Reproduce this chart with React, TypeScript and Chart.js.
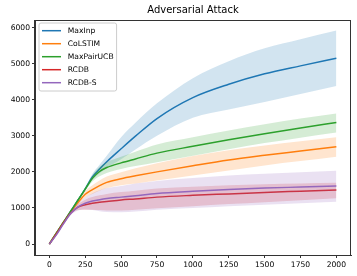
import React, { useEffect, useRef } from "react";
import { Chart, registerables } from "chart.js";

Chart.register(...registerables);

const steps = [0, 50, 100, 150, 200, 250, 300, 350, 400, 500, 600, 750, 1000, 1250, 1500, 1750, 2000];

const seriesNames = ["MaxInp", "CoLSTIM", "MaxPairUCB", "RCDB", "RCDB-S"];
const seriesColors = ["#1f77b4", "#ff7f0e", "#2ca02c", "#d62728", "#9467bd"];

const maxInpMean = [0, 305, 610, 915, 1220, 1530, 1860, 2080, 2280, 2640, 2990, 3480, 4060, 4430, 4720, 4940, 5150];
const maxInpLow = [0, 300, 600, 900, 1200, 1490, 1780, 1960, 2110, 2350, 2620, 3000, 3500, 3730, 3940, 4160, 4380];
const maxInpHigh = [0, 310, 620, 930, 1250, 1570, 1950, 2200, 2450, 2960, 3360, 3900, 4600, 5070, 5430, 5680, 5920];

const colstimMean = [0, 305, 610, 900, 1150, 1380, 1510, 1620, 1710, 1810, 1890, 2000, 2170, 2330, 2460, 2580, 2700];
const colstimLow = [0, 300, 600, 870, 1090, 1290, 1390, 1480, 1550, 1630, 1680, 1760, 1900, 2040, 2180, 2300, 2420];
const colstimHigh = [0, 310, 620, 930, 1210, 1470, 1630, 1760, 1870, 1990, 2100, 2240, 2440, 2600, 2730, 2850, 2960];

const maxPairMean = [0, 305, 610, 915, 1220, 1520, 1820, 2010, 2120, 2250, 2360, 2520, 2710, 2890, 3060, 3220, 3370];
const maxPairLow = [0, 300, 600, 900, 1190, 1470, 1730, 1880, 1970, 2080, 2160, 2270, 2450, 2630, 2800, 2950, 3090];
const maxPairHigh = [0, 310, 620, 930, 1250, 1570, 1910, 2140, 2270, 2420, 2560, 2760, 2960, 3150, 3320, 3480, 3620];

const rcdbMean = [0, 285, 590, 860, 1020, 1090, 1130, 1160, 1180, 1220, 1250, 1300, 1350, 1390, 1430, 1465, 1500];
const rcdbLow = [0, 270, 560, 820, 940, 950, 950, 940, 930, 930, 950, 990, 1050, 1110, 1160, 1210, 1270];
const rcdbHigh = [0, 300, 620, 900, 1100, 1230, 1300, 1350, 1390, 1440, 1480, 1540, 1590, 1630, 1660, 1680, 1700];

const rcdbsMean = [0, 260, 570, 850, 1030, 1130, 1190, 1230, 1260, 1300, 1340, 1400, 1460, 1510, 1550, 1580, 1610];
const rcdbsLow = [0, 240, 530, 800, 930, 960, 940, 910, 890, 880, 900, 950, 1000, 1050, 1090, 1130, 1170];
const rcdbsHigh = [0, 280, 610, 900, 1130, 1290, 1410, 1490, 1550, 1610, 1680, 1750, 1830, 1900, 1950, 1990, 2030];

const means = [maxInpMean, colstimMean, maxPairMean, rcdbMean, rcdbsMean];
const lows = [maxInpLow, colstimLow, maxPairLow, rcdbLow, rcdbsLow];
const highs = [maxInpHigh, colstimHigh, maxPairHigh, rcdbHigh, rcdbsHigh];

const xTicks = [0, 250, 500, 750, 1000, 1250, 1500, 1750, 2000];
const yTicks = [0, 1000, 2000, 3000, 4000, 5000, 6000];
const titleText = "Adversarial Attack";

const FONT = "'DejaVu Sans', sans-serif";

function hexA(hex: string, a: number) {
  const r = parseInt(hex.slice(1, 3), 16);
  const g = parseInt(hex.slice(3, 5), 16);
  const b = parseInt(hex.slice(5, 7), 16);
  return `rgba(${r},${g},${b},${a})`;
}

const toXY = (arr: number[]) => arr.map((v, i) => ({ x: steps[i], y: v }));

const framePlugin = {
  id: "frameLegendTitle",
  afterDraw(chart: any) {
    const { ctx, chartArea } = chart;
    const { left, right, top, bottom } = chartArea;
    ctx.save();
    ctx.strokeStyle = "#333";
    ctx.lineWidth = 1;
    ctx.strokeRect(Math.round(left) - 0.5, Math.round(top) + 0.5, Math.round(right - left), Math.round(bottom - top));
    ctx.fillStyle = "#000";
    ctx.font = `10px ${FONT}`;
    ctx.textAlign = "center";
    ctx.textBaseline = "middle";
    ctx.fillText(titleText, (left + right) / 2, 10.5);
    ctx.font = `7.6px ${FONT}`;
    let maxW = 0;
    seriesNames.forEach((n) => {
      maxW = Math.max(maxW, ctx.measureText(n).width);
    });
    const bx = left + 4;
    const by = top + 3;
    const bw = 28.7 + maxW + 3;
    const bh = 68;
    ctx.fillStyle = "rgba(255,255,255,0.8)";
    ctx.strokeStyle = "#cccccc";
    ctx.lineWidth = 1;
    ctx.beginPath();
    const r = 2;
    ctx.moveTo(bx + r, by);
    ctx.lineTo(bx + bw - r, by);
    ctx.quadraticCurveTo(bx + bw, by, bx + bw, by + r);
    ctx.lineTo(bx + bw, by + bh - r);
    ctx.quadraticCurveTo(bx + bw, by + bh, bx + bw - r, by + bh);
    ctx.lineTo(bx + r, by + bh);
    ctx.quadraticCurveTo(bx, by + bh, bx, by + bh - r);
    ctx.lineTo(bx, by + r);
    ctx.quadraticCurveTo(bx, by, bx + r, by);
    ctx.closePath();
    ctx.fill();
    ctx.stroke();
    ctx.textAlign = "left";
    seriesNames.forEach((n, i) => {
      const yy = by + 7.7 + i * 13;
      ctx.strokeStyle = seriesColors[i];
      ctx.lineWidth = 1.5;
      ctx.beginPath();
      ctx.moveTo(bx + 3, yy);
      ctx.lineTo(bx + 22, yy);
      ctx.stroke();
      ctx.fillStyle = "#000";
      ctx.fillText(n, bx + 28.7, yy + 0.5);
    });
    ctx.restore();
  },
};

export default function App() {
  const ref = useRef<HTMLCanvasElement | null>(null);
  useEffect(() => {
    document.body.style.margin = "0";
    if (!ref.current) return;
    const datasets: any[] = [];
    let ord = 1000;
    seriesNames.forEach((name, i) => {
      const c = seriesColors[i];
      datasets.push({
        label: name + " mean",
        data: toXY(means[i]),
        borderColor: c,
        borderWidth: 1.5,
        pointRadius: 0,
        fill: false,
        cubicInterpolationMode: "monotone",
        order: ord--,
      });
      datasets.push({
        label: name + " low",
        data: toXY(lows[i]),
        borderWidth: 0,
        borderColor: "rgba(0,0,0,0)",
        pointRadius: 0,
        fill: false,
        cubicInterpolationMode: "monotone",
        order: ord--,
      });
      datasets.push({
        label: name + " high",
        data: toXY(highs[i]),
        borderWidth: 0,
        borderColor: "rgba(0,0,0,0)",
        backgroundColor: hexA(c, 0.2),
        pointRadius: 0,
        fill: "-1",
        cubicInterpolationMode: "monotone",
        order: ord--,
      });
    });
    const chart = new Chart(ref.current, {
      type: "line",
      data: { datasets },
      options: {
        responsive: false,
        animation: false,
        layout: { padding: { left: 0, right: 6, top: 20, bottom: 0 } },
        plugins: {
          legend: { display: false },
          title: { display: false },
          tooltip: { enabled: false },
        },
        scales: {
          x: {
            type: "linear",
            min: -100,
            max: 2102,
            afterBuildTicks: (s: any) => {
              s.ticks = xTicks.map((v) => ({ value: v }));
            },
            afterFit: (s: any) => {
              s.height = 21;
            },
            grid: { drawOnChartArea: false, tickLength: 3, color: "#333" },
            border: { display: true, color: "#333" },
            ticks: {
              color: "#000",
              font: { family: FONT, size: 7.6 },
              padding: 2,
              maxRotation: 0,
              autoSkip: false,
              callback: (v: any) => String(v),
            },
          },
          y: {
            type: "linear",
            min: -305,
            max: 6212,
            afterBuildTicks: (s: any) => {
              s.ticks = yTicks.map((v) => ({ value: v }));
            },
            afterFit: (s: any) => {
              s.width = 35;
            },
            grid: { drawOnChartArea: false, tickLength: 3, color: "#333" },
            border: { display: true, color: "#333" },
            ticks: {
              color: "#000",
              font: { family: FONT, size: 7.6 },
              padding: 2,
              autoSkip: false,
              callback: (v: any) => String(v),
            },
          },
        },
      },
      plugins: [framePlugin],
    });
    return () => chart.destroy();
  }, []);
  return <canvas ref={ref} width={357} height={276} style={{ display: "block" }} />;
}
